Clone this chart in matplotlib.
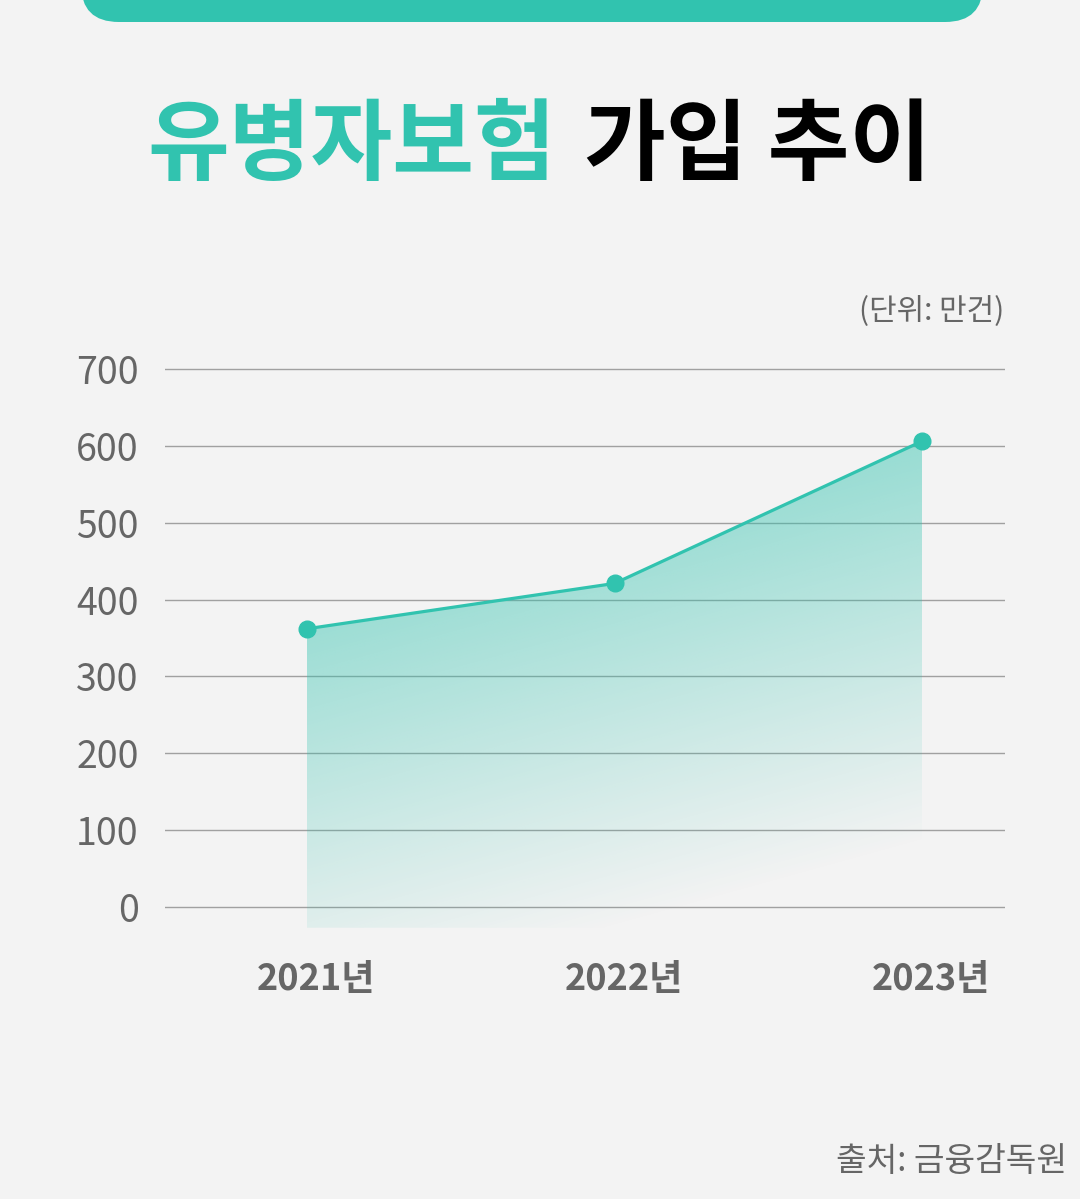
import numpy as np
import matplotlib
matplotlib.use('Agg')
import matplotlib.pyplot as plt
from matplotlib.patches import FancyBboxPatch

plt.rcParams['font.family'] = ['Noto Sans CJK KR', 'DejaVu Sans']

# data (단위: 만건)
years = ['2021년', '2022년', '2023년']
subscribers = [362, 421, 606]
y_ticks = [0, 100, 200, 300, 400, 500, 600, 700]

teal = '#31C3AF'
bg = '#F3F3F3'
grey_text = '#666666'

W, H = 1080, 1199
fig = plt.figure(figsize=(W / 100, H / 100), dpi=100)
fig.patch.set_facecolor(bg)

# top banner, only its rounded bottom shows
banner = FancyBboxPatch((81 / W, 1 - 22 / H), (983 - 81) / W, 0.2,
                        boxstyle='round,pad=0,rounding_size=0.035',
                        transform=fig.transFigure, facecolor=teal,
                        edgecolor='none', mutation_aspect=W / H)
fig.patches.append(banner)

# title
fig.text(556 / W, 1 - 147 / H, '유병자보험', color=teal, fontsize=64,
         fontweight=900, ha='right', va='center')
fig.text(584 / W, 1 - 147 / H, '가입 추이', color='black', fontsize=64,
         fontweight=900, ha='left', va='center')

# axes
px_per_val = (907 - 369) / 700
y_lo, y_hi = -27, 710
ax_top = 907 - y_hi * px_per_val
ax_bot = 907 - y_lo * px_per_val
ax = fig.add_axes([165 / W, 1 - ax_bot / H, (1005 - 165) / W, (ax_bot - ax_top) / H])
ax.set_facecolor('none')
x = np.arange(len(years))
ax.set_xlim(-(307 - 165) / 307.5, 2 + (1005 - 922) / 307.5)
ax.set_ylim(y_lo, y_hi)

for s in ax.spines.values():
    s.set_visible(False)

for t in y_ticks:
    ax.axhline(t, color='#A0A0A0', lw=1.0, zorder=1)

# gradient fill under the line
poly = ax.fill_between(x, subscribers, y_lo, facecolor='none', edgecolor='none')
gx = np.linspace(ax.get_xlim()[0], ax.get_xlim()[1], 300)
gy = np.linspace(y_lo, y_hi, 300)
GX, GY = np.meshgrid(gx, gy)
fig.canvas.draw()
disp = ax.transData.transform(np.column_stack([GX.ravel(), GY.ravel()]))
px = disp[:, 0]
py = H - disp[:, 1]
alpha = np.clip(1.2855 - 0.00117 * py - 0.000324 * px, 0, 1).reshape(GX.shape)
rgba = np.zeros(GX.shape + (4,))
rgba[..., :3] = matplotlib.colors.to_rgb(teal)
rgba[..., 3] = alpha
img = ax.imshow(rgba, extent=[gx[0], gx[-1], y_lo, y_hi], origin='lower',
                aspect='auto', zorder=2, interpolation='bilinear')
for p in poly.get_paths():
    img.set_clip_path(p, transform=ax.transData)

ax.plot(x, subscribers, color=teal, lw=2.3, marker='o', markersize=12,
        zorder=4, clip_on=False)

ax.set_yticks(y_ticks)
ax.set_yticklabels([str(t) for t in y_ticks], fontsize=27, color=grey_text)
ax.set_xticks(x + 0.03)
ax.set_xticklabels(years, fontsize=26, fontweight='bold', color=grey_text)
ax.tick_params(axis='y', length=0, pad=19)
ax.tick_params(axis='x', length=0, pad=24)

fig.text(1004 / W, 1 - 312 / H, '(단위: 만건)', fontsize=21.5, color=grey_text,
         ha='right', va='center')
fig.text(1067 / W, 1 - 1162 / H, '출처: 금융감독원', fontsize=24, color=grey_text,
         ha='right', va='center')

fig.savefig('out.png', dpi=100, facecolor=bg)
